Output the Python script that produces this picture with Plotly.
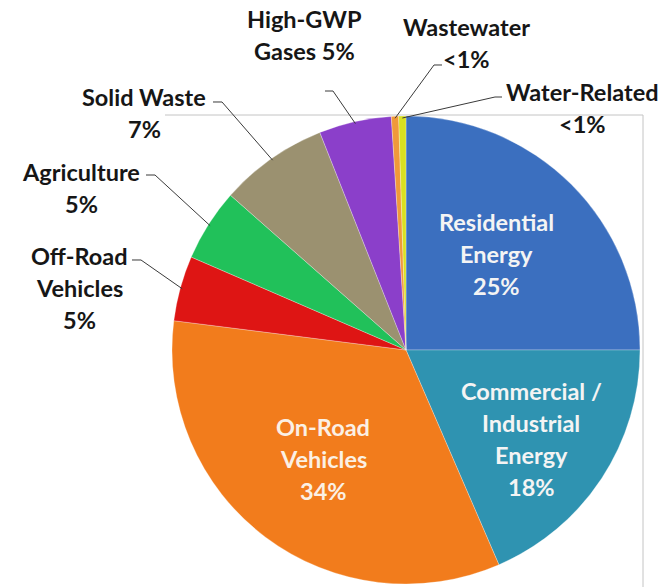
import math
import plotly.graph_objects as go

# ---------------- data ----------------
categories = ["Residential Energy", "Commercial / Industrial Energy", "On-Road Vehicles",
              "Off-Road Vehicles", "Agriculture", "Solid Waste", "High-GWP Gases",
              "Wastewater", "Water-Related"]
shares = [25, 18.5, 33.5, 4.5, 5, 7.5, 5, 0.5, 0.5]
pct_labels = ["25%", "18%", "34%", "5%", "5%", "7%", "5%", "<1%", "<1%"]
name_lines = [["Residential", "Energy"],
              ["Commercial /", "Industrial", "Energy"],
              ["On-Road", "Vehicles"],
              ["Off-Road", "Vehicles"],
              ["Agriculture"],
              ["Solid Waste"],
              ["High-GWP", "Gases"],
              ["Wastewater"],
              ["Water-Related"]]
colors = ["#3b6fbf", "#2f93b1", "#f27c1c", "#de1514", "#21c15a",
          "#9b9170", "#8b3fca", "#f0993a", "#d9e021"]

# ---------------- layout constants ----------------
W, H = 671, 587
CX, CY, R = 406, 350, 234
FONT = "Lato"
FS = 23.5
LINE = 32


def px(x):
    return x / W


def py(y):
    return 1 - y / H


fig = go.Figure(go.Pie(
    labels=categories, values=shares, sort=False, direction="clockwise", rotation=0,
    marker=dict(colors=colors, line=dict(color="rgba(255,255,255,0.35)", width=0.8)),
    textinfo="none", hoverinfo="label+percent", showlegend=False,
    domain=dict(x=[px(CX - R), px(CX + R)], y=[py(CY + R), py(CY - R)]),
))

# label text blocks: (category index, lines, centre x, first line y, colour)
inside_col = "#f4f4f4"
outside_col = "#161616"
blocks = [
    (0, name_lines[0] + [pct_labels[0]], 496, 222, inside_col),
    (1, name_lines[1] + [pct_labels[1]], 531, 391, inside_col),
    (2, name_lines[2] + [pct_labels[2]], 323, 427, "#fbf0e4"),
    (3, name_lines[3] + [pct_labels[3]], 79, 256, outside_col),
    (4, name_lines[4] + [pct_labels[4]], 81, 172, outside_col),
    (5, name_lines[5] + [pct_labels[5]], 144, 97, outside_col),
    (6, [name_lines[6][0], name_lines[6][1] + " " + pct_labels[6]], 304, 19, outside_col),
    (7, name_lines[7] + [pct_labels[7]], 466, 27, outside_col),
    (8, name_lines[8] + [pct_labels[8]], 582, 92, outside_col),
]
annotations = []
for idx, lines, xc, y0, col in blocks:
    for k, t in enumerate(lines):
        annotations.append(dict(
            text=t, x=px(xc), y=py(y0 + k * LINE), xref="paper", yref="paper",
            xanchor="center", yanchor="middle", showarrow=False,
            font=dict(family=FONT, size=FS, color=col, weight="bold")))

# leader lines: from label tick to the middle of the slice on the rim
total = sum(shares)
cum = 0
mids = []
for v in shares:
    mids.append((cum + v / 2) / total * 2 * math.pi)
    cum += v


def rim(i, r=R - 2):
    a = mids[i]
    return CX + r * math.sin(a), CY - r * math.cos(a)


leaders = [  # (category index, tick start, tick end)
    (3, (132, 260), (141, 260)),
    (4, (146, 175), (155, 175)),
    (5, (213, 102), (222, 102)),
    (6, (325, 91), (333, 91)),
    (7, (442, 65), (434, 65)),
    (8, (502, 97), (495, 97)),
]
shapes = []
for i, (x0, y0), (x1, y1) in leaders:
    xe, ye = rim(i)
    path = "M {:.5f},{:.5f} L {:.5f},{:.5f} L {:.5f},{:.5f}".format(
        px(x0), py(y0), px(x1), py(y1), px(xe), py(ye))
    shapes.append(dict(type="path", path=path, xref="paper", yref="paper",
                       line=dict(color="#3a3a3a", width=1), layer="above"))

# light frame lines (top and right)
shapes.append(dict(type="line", xref="paper", yref="paper", x0=px(165), y0=py(115),
                   x1=px(643), y1=py(115), line=dict(color="#c4c4c4", width=1), layer="below"))
shapes.append(dict(type="line", xref="paper", yref="paper", x0=px(643), y0=py(115),
                   x1=px(643), y1=py(590), line=dict(color="#c4c4c4", width=1), layer="below"))

fig.update_layout(
    width=W, height=H, margin=dict(l=0, r=0, t=0, b=0),
    paper_bgcolor="white", plot_bgcolor="white",
    annotations=annotations, shapes=shapes,
)

fig.write_html("out.html", config={"displayModeBar": False},
               post_script="document.body.style.margin='0';document.body.style.overflow='hidden';")
